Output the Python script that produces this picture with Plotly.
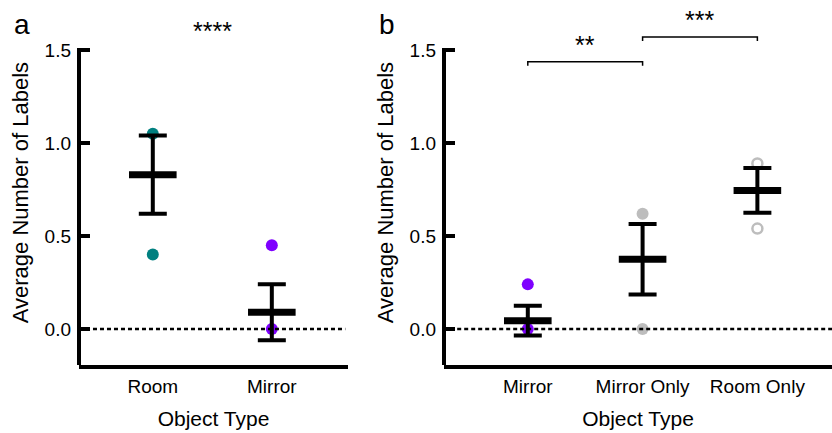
import plotly.graph_objects as go

# ---------------- data ----------------
cats_a = ["Room", "Mirror"]
room_points_a = [1.05, 0.40]
mirror_points_a = [0.45, 0.00]
means_a = [0.83, 0.09]
sem_a = [0.21, 0.15]

cats_b = ["Mirror", "Mirror Only", "Room Only"]
mirror_points_b = [0.24, 0.00]
mirror_only_points_b = [0.62, 0.00]
room_only_points_b = [0.89, 0.54]
means_b = [0.045, 0.375, 0.745]
sem_b = [0.08, 0.19, 0.12]

y_tickvals = [0.0, 0.5, 1.0, 1.5]
y_ticktext = ["0.0", "0.5", "1.0", "1.5"]

sig_a = "****"
sig_a_y = 1.515
sig_b = [("Mirror", "Mirror Only", 1.437, "**"), ("Mirror Only", "Room Only", 1.57, "***")]

# ---------------- style ----------------
FONT = "Liberation Sans, Arial, Helvetica, sans-serif"
TEAL = "#008080"
PURPLE = "#7F00FF"
GRAY = "#BDBDBD"
Y_MIN, Y_MAX = -0.1935, 1.66

fig = go.Figure()

def points(x_cat, vals, color, xa, ya, open_=False):
    fig.add_trace(go.Scatter(
        x=[x_cat] * len(vals), y=vals, mode="markers",
        marker=dict(symbol="circle-open" if open_ else "circle",
                    size=10 if open_ else 12, color=color,
                    line=dict(width=2.5 if open_ else 0, color=color)),
        xaxis=xa, yaxis=ya, showlegend=False, cliponaxis=False))

def means(cats, m, s, xa, ya):
    fig.add_trace(go.Scatter(
        x=cats, y=m, mode="markers",
        marker=dict(symbol="line-ew", size=34, color="black",
                    line=dict(width=7, color="black")),
        error_y=dict(type="data", array=s, visible=True, color="black",
                     thickness=4, width=14),
        xaxis=xa, yaxis=ya, showlegend=False, cliponaxis=False))

# panel a
points("Room", room_points_a, TEAL, "x", "y")
points("Mirror", mirror_points_a, PURPLE, "x", "y")
means(cats_a, means_a, sem_a, "x", "y")

# panel b
points("Mirror", mirror_points_b, PURPLE, "x2", "y2")
points("Mirror Only", mirror_only_points_b, GRAY, "x2", "y2")
points("Room Only", room_only_points_b, GRAY, "x2", "y2", open_=True)
means(cats_b, means_b, sem_b, "x2", "y2")

# significance brackets (panel b)
drop = 0.022
for c0, c1, yb, txt in sig_b:
    fig.add_trace(go.Scatter(
        x=[c0, c0, c1, c1], y=[yb - drop, yb, yb, yb - drop], mode="lines",
        line=dict(color="black", width=1.5), xaxis="x2", yaxis="y2",
        showlegend=False, hoverinfo="skip"))

star_font = dict(size=25, family=FONT, color="black")
annotations = []
idx = {c: i for i, c in enumerate(cats_b)}
annotations.append(dict(x=0.5, y=sig_a_y, xref="x", yref="y", text=sig_a,
                        showarrow=False, yanchor="bottom", xanchor="center", font=star_font))
for c0, c1, yb, txt in sig_b:
    annotations.append(dict(x=(idx[c0] + idx[c1]) / 2, y=yb, xref="x2", yref="y2",
                            text=txt, showarrow=False, yanchor="bottom", xanchor="center",
                            yshift=1, font=star_font))
# panel letters
for letter, px in (("a", 22), ("b", 387)):
    annotations.append(dict(x=px / 832, y=1 - 25 / 433, xref="paper", yref="paper", text=letter,
                            xanchor="center", yanchor="middle", showarrow=False,
                            font=dict(size=28, family=FONT, color="black")))

shapes = []
for xr, yr, x0, tick_frac in (("x domain", "y", 0.052, 11 / 269), ("x2 domain", "y2", 0.034, 11 / 388)):
    # dotted zero line
    shapes.append(dict(type="line", xref=xr, yref=yr, x0=x0, x1=0.99 if xr == "x domain" else 1.0,
                       y0=0, y1=0, line=dict(color="black", width=2.5, dash="4px,3px"),
                       layer="above"))
    # y axis line up to 1.5
    shapes.append(dict(type="line", xref=xr, yref=yr, x0=0, x1=0, y0=Y_MIN, y1=y_tickvals[-1] + 0.011,
                       line=dict(color="black", width=4), layer="above"))
    # inward tick marks at the tick values
    for v in y_tickvals:
        shapes.append(dict(type="line", xref=xr, yref=yr, x0=0, x1=tick_frac, y0=v, y1=v,
                           line=dict(color="black", width=4), layer="above"))

yaxis_common = dict(range=[Y_MIN, Y_MAX], domain=[0.15704, 0.95326],
                    tickvals=y_tickvals, ticktext=y_ticktext,
                    ticks="", showline=False, showgrid=False, zeroline=False,
                    tickfont=dict(size=19, family=FONT, color="black"),
                    ticklabelstandoff=7,
                    title=dict(text="Average Number of Labels", standoff=9,
                               font=dict(size=22, family=FONT, color="black")),
                    automargin=False)
xaxis_common = dict(type="category", showline=True, linewidth=4, linecolor="black",
                    ticks="", showgrid=False, zeroline=False,
                    tickfont=dict(size=19, family=FONT, color="black"),
                    ticklabelstandoff=1,
                    title=dict(text="Object Type", standoff=16,
                               font=dict(size=21, family=FONT, color="black")),
                    automargin=False)

fig.update_layout(
    width=832, height=433,
    margin=dict(l=0, r=0, t=0, b=0),
    paper_bgcolor="white", plot_bgcolor="white",
    xaxis=dict(xaxis_common, domain=[79 / 832, 348 / 832], range=[-0.62, 1.64],
               categoryorder="array", categoryarray=cats_a, anchor="y"),
    yaxis=dict(yaxis_common, anchor="x"),
    xaxis2=dict(xaxis_common, domain=[444 / 832, 1.0], range=[-0.73, 2.65],
                categoryorder="array", categoryarray=cats_b, anchor="y2"),
    yaxis2=dict(yaxis_common, anchor="x2"),
    annotations=annotations,
    shapes=shapes,
    font=dict(family=FONT, color="black"),
)

fig.write_html("out.html", config={"displayModeBar": False},
               post_script="document.body.style.margin='0';")
